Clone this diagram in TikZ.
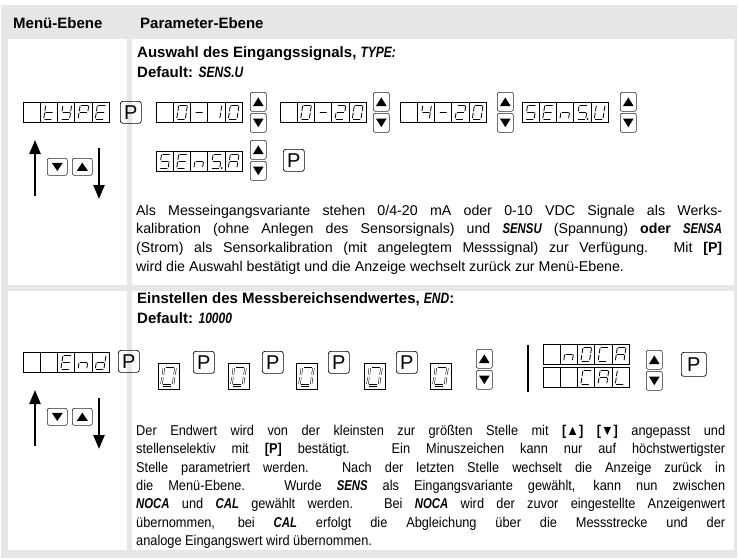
\documentclass[tikz,border=0pt]{standalone}
\usepackage{fontspec}
\setmainfont{Liberation Sans}
\newfontfamily\segfont[FakeStretch=0.8]{Liberation Sans}
\newfontfamily\narrowfont[FakeStretch=0.9]{Liberation Sans}
\usetikzlibrary{arrows.meta}
\definecolor{tabgray}{HTML}{E6E6E6}
\newcommand\sg[1]{{\segfont\bfseries\itshape #1}}

% seven-segment pieces (local units, y downward)
\def\segA{\draw[segline] (1,0) -- (7,0);}
\def\segB{\draw[segline] (8,1) -- (8,5.5);}
\def\segC{\draw[segline] (8,7.5) -- (8,12);}
\def\segD{\draw[segline] (1,13) -- (7,13);}
\def\segE{\draw[segline] (0,7.5) -- (0,12);}
\def\segF{\draw[segline] (0,1) -- (0,5.5);}
\def\segG{\draw[segline] (1,6.5) -- (7,6.5);}
\def\segP{\fill (9.8,13) circle (0.9);}
\def\segX{}
\def\gT{D,E,F,G}
\def\gY{B,C,D,F,G}
\def\gP{A,B,E,F,G}
\def\gE{A,D,E,F,G}
\def\gZero{A,B,C,D,E,F}
\def\gDash{G}
\def\gOne{B,C}
\def\gTwo{A,B,D,E,G}
\def\gFour{B,C,F,G}
\def\gS{A,C,D,F,G}
\def\gSdot{A,C,D,F,G,P}
\def\gn{C,E,G}
\def\gU{B,C,D,E,F}
\def\gA{A,B,C,E,F,G}
\def\gd{B,C,D,E,G}
\def\gC{A,D,E,F}
\def\gL{D,E,F}
\def\gX{X}
\def\gEight{A,B,C,D,E,F,G}

\newcommand\glyph[3]{\begin{scope}[shift={(#1,#2)},xslant=0.15,scale=1.08]\foreach \s in #3 {\csname seg\s\endcsname}\end{scope}}
\newcommand\bigglyph[2]{\begin{scope}[shift={(#1,#2)},xslant=0.15,scale=1.45,segline/.style={double,double distance=1.2pt,line width=0.5pt}]\foreach \s in \gEight {\csname seg\s\endcsname}\end{scope}}

\newcommand\dispfive[8]{%
  \node[dispbox] (#1) at (#2,#3) {};
  \foreach \i in {1,...,4}{\draw[cellline] (#2+\i*17.2,#3) -- (#2+\i*17.2,#3+20);}
  \glyph{#2+5.6}{#3+3}{#4}
  \glyph{#2+22.8}{#3+3}{#5}
  \glyph{#2+40}{#3+3}{#6}
  \glyph{#2+57.2}{#3+3}{#7}
  \glyph{#2+74.4}{#3+3}{#8}
}
\newcommand\updown[3]{%
  \node[udbtn] (#1u) at (#2,#3) {};
  \node[udbtn] (#1d) at (#2,#3+21) {};
  \fill ([shift={(0,-4.4)}]#1u.center) -- ([shift={(5.3,4.2)}]#1u.center) -- ([shift={(-5.3,4.2)}]#1u.center) -- cycle;
  \fill ([shift={(0,4.4)}]#1d.center) -- ([shift={(5.3,-4.2)}]#1d.center) -- ([shift={(-5.3,-4.2)}]#1d.center) -- cycle;
}
\newcommand\leftbtns[2]{% prefix, y
  \node[lbtn] (#1d) at (47,#2) {};
  \node[lbtn] (#1u) at (72,#2) {};
  \fill ([shift={(0,4.2)}]#1d.center) -- ([shift={(5.5,-4)}]#1d.center) -- ([shift={(-5.5,-4)}]#1d.center) -- cycle;
  \fill ([shift={(0,-4.2)}]#1u.center) -- ([shift={(5.5,4)}]#1u.center) -- ([shift={(-5.5,4)}]#1u.center) -- cycle;
}
\newcommand\digit[3]{%
  \node[digbox] (#1) at (#2,#3) {};
  \bigglyph{#2+6.1}{#3+3.6}
}

\tikzset{
  segline/.style={line width=0.85pt, line cap=round},
  dispbox/.style={draw, line width=0.6pt, minimum width=86pt, minimum height=20pt, inner sep=0pt, anchor=north west},
  cellline/.style={line width=0.6pt},
  pbtn/.style={draw, rounded corners=2.5pt, line width=0.7pt, minimum width=21pt, minimum height=22pt, inner sep=0pt, anchor=north west, font=\fontsize{20}{20}\selectfont},
  udbtn/.style={draw=black!85, rounded corners=2pt, line width=0.6pt, minimum width=16pt, minimum height=19pt, inner sep=0pt, anchor=north west},
  lbtn/.style={draw=black!85, rounded corners=2pt, line width=0.6pt, minimum width=20pt, minimum height=17pt, inner sep=0pt, anchor=north west},
  digbox/.style={draw, line width=0.6pt, minimum width=21pt, minimum height=26pt, inner sep=0pt, anchor=north west},
  bigarrow/.style={line width=2.4pt, -{Triangle[length=14pt,width=11pt]}},
  txt/.style={anchor=base west, inner sep=0pt, font=\fontsize{14.2}{18}\selectfont},
  txtn/.style={anchor=base west, inner sep=0pt, font=\fontsize{14.2}{18}\selectfont\narrowfont},
  head/.style={anchor=base west, inner sep=0pt, font=\fontsize{15}{18}\selectfont\bfseries},
}

\begin{document}
\begin{tikzpicture}[x=1pt,y=-1pt]
\useasboundingbox (0,0) rectangle (738,558);
% table
\fill[tabgray] (1,5) rectangle (737,558);
\fill[white] (8,39) rectangle (127,285);
\fill[white] (132,39) rectangle (734,285);
\fill[white] (8,291) rectangle (127,550);
\fill[white] (132,291) rectangle (734,550);

% header
\node[head] (hmenu) at (13,28) {Menü-Ebene};
\node[head] (hparam) at (140,28) {Parameter-Ebene};

% ---------- row 1 ----------
\node[head] (r1t) at (137,57) {Auswahl des Eingangssignals, \sg{TYPE:}};
\node[head] (r1d) at (137,77) {Default: \sg{SENS.U}};

\dispfive{dtype}{23}{102}{\gX}{\gT}{\gY}{\gP}{\gE}
\node[pbtn] (p1) at (120,101) {P};
\dispfive{d010}{156}{102}{\gX}{\gZero}{\gDash}{\gOne}{\gZero}
\updown{ud1}{250}{92}
\dispfive{d020}{280}{102}{\gX}{\gZero}{\gDash}{\gTwo}{\gZero}
\updown{ud2}{373}{92}
\dispfive{d420}{400}{102}{\gX}{\gFour}{\gDash}{\gTwo}{\gZero}
\updown{ud3}{497}{92}
\dispfive{dsensu}{522}{102}{\gS}{\gE}{\gn}{\gSdot}{\gU}
\updown{ud4}{620}{92}

\dispfive{dsensa}{156}{151}{\gS}{\gE}{\gn}{\gSdot}{\gA}
\updown{ud5}{250}{140}
\node[pbtn] (p2) at (283,149) {P};

\coordinate (a1s) at (35,196); \coordinate (a1e) at (35,140);
\draw[bigarrow] (a1s) -- (a1e);
\leftbtns{l1}{158}
\coordinate (b1s) at (99,148); \coordinate (b1e) at (99,199);
\draw[bigarrow] (b1s) -- (b1e);

\node[txt] (r1p1) at (136,215) {\makebox[586pt][s]{Als Messeingangsvariante stehen 0/4-20 mA oder 0-10 VDC Signale als Werks-}};
\node[txt] (r1p2) at (136,233.8) {\makebox[586pt][s]{kalibration (ohne Anlegen des Sensorsignals) und \sg{SENSU} (Spannung) \textbf{oder} \sg{SENSA}}};
\node[txt] (r1p3) at (136,252.6) {\makebox[586pt][s]{(Strom) als Sensorkalibration (mit angelegtem Messsignal) zur Verfügung. Mit \textbf{[P]}}};
\node[txt] (r1p4) at (136,271.4) {wird die Auswahl bestätigt und die Anzeige wechselt zurück zur Menü-Ebene.};

% ---------- row 2 ----------
\node[head] (r2t) at (137,303) {Einstellen des Messbereichsendwertes, \sg{END}:};
\node[head] (r2d) at (137,323) {Default: \sg{10000}};

\dispfive{dend}{23}{352}{\gX}{\gX}{\gE}{\gn}{\gd}
\node[pbtn] (p3) at (118,350) {P};
\digit{dg1}{158}{363}
\node[pbtn] (p5) at (193,351) {P};
\digit{dg2}{228}{363}
\node[pbtn] (p6) at (262,351) {P};
\digit{dg3}{296}{363}
\node[pbtn] (p7) at (328,351) {P};
\digit{dg4}{364}{363}
\node[pbtn] (p8) at (396,351) {P};
\digit{dg5}{430}{363}
\updown{ud6}{476}{349}
\coordinate (bar1) at (528,345); \coordinate (bar2) at (528,392);
\draw[line width=2pt] (bar1) -- (bar2);
\dispfive{dnoca}{543}{344}{\gX}{\gn}{\gZero}{\gC}{\gA}
\dispfive{dcal}{543}{367}{\gX}{\gX}{\gC}{\gA}{\gL}
\updown{ud7}{646}{350}
\node[pbtn, minimum width=25pt, minimum height=24pt] (p4) at (681,352) {P};

\coordinate (a2s) at (35,446); \coordinate (a2e) at (35,390);
\draw[bigarrow] (a2s) -- (a2e);
\leftbtns{l2}{408}
\coordinate (b2s) at (99,398); \coordinate (b2e) at (99,449);
\draw[bigarrow] (b2s) -- (b2e);

\node[txtn] (r2p1) at (136,435.5) {\makebox[589pt][s]{Der Endwert wird von der kleinsten zur größten Stelle mit \textbf{[▲] [▼]} angepasst und}};
\node[txtn] (r2p2) at (136,453.8) {\makebox[589pt][s]{stellenselektiv mit \textbf{[P]} bestätigt. Ein Minuszeichen kann nur auf höchstwertigster}};
\node[txtn] (r2p3) at (136,472.1) {\makebox[589pt][s]{Stelle parametriert werden. Nach der letzten Stelle wechselt die Anzeige zurück in}};
\node[txtn] (r2p4) at (136,490.4) {\makebox[589pt][s]{die Menü-Ebene. Wurde \sg{SENS} als Eingangsvariante gewählt, kann nun zwischen}};
\node[txtn] (r2p5) at (136,508.7) {\makebox[589pt][s]{\sg{NOCA} und \sg{CAL} gewählt werden. Bei \sg{NOCA} wird der zuvor eingestellte Anzeigenwert}};
\node[txtn] (r2p6) at (136,527) {\makebox[589pt][s]{übernommen, bei \sg{CAL} erfolgt die Abgleichung über die Messstrecke und der}};
\node[txtn] (r2p7) at (136,545.3) {analoge Eingangswert wird übernommen.};
\end{tikzpicture}
\end{document}
